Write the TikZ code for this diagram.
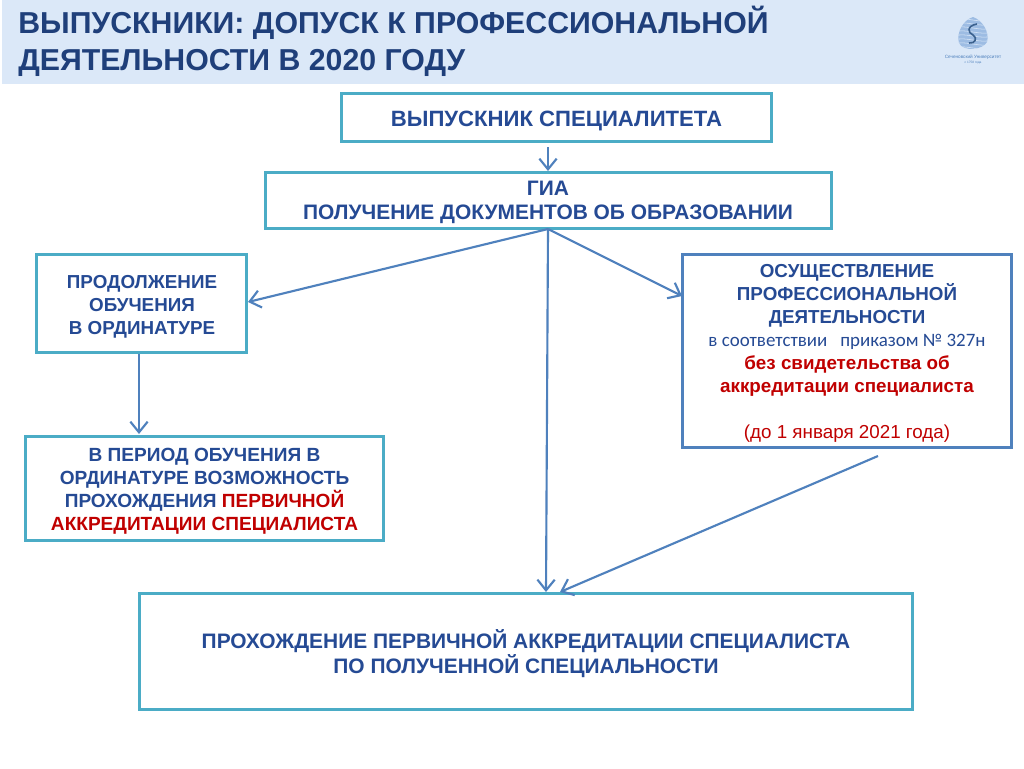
\documentclass[tikz,border=0pt]{standalone}
\usepackage{fontspec}
\setmainfont{Liberation Sans}
\newfontfamily\calib{Carlito}
\usetikzlibrary{arrows.meta}
\definecolor{hdr}{HTML}{DBE8F8}
\definecolor{teal}{HTML}{4BACC6}
\definecolor{frameblue}{HTML}{4F81BD}
\definecolor{txtblue}{HTML}{254A94}
\definecolor{titleblue}{HTML}{1F3F7A}
\definecolor{redt}{HTML}{C00000}
\definecolor{logob}{HTML}{9DBCE3}
\tikzset{
  tbox/.style={draw=teal,line width=2.25pt,fill=white,inner sep=0pt,outer sep=0pt},
  bbox/.style={tbox,draw=frameblue},
  txt/.style={inner sep=0pt,align=center,text=txtblue,font=\bfseries\fontsize{14.1}{17.25}\selectfont},
  conn/.style={draw=frameblue,line width=1.6pt,-{Straight Barb[length=8pt,width=13pt,line width=1.6pt]}},
  head/.style={anchor=base west,text=titleblue,font=\bfseries\fontsize{22.7}{28}\selectfont,inner sep=0pt}
}
\newcommand{\rt}[1]{\textcolor{redt}{#1}}
\begin{document}
\begin{tikzpicture}[x=0.75pt,y=-0.75pt]
\useasboundingbox (0,0) rectangle (1024,768);
\fill[white] (0,0) rectangle (1024,768);
\fill[hdr] (2,0) rectangle (1024,84);
\node[head] (t1) at (18,33) {ВЫПУСКНИКИ: ДОПУСК К ПРОФЕССИОНАЛЬНОЙ};
\node[head] (t2) at (18,70) {ДЕЯТЕЛЬНОСТИ В 2020 ГОДУ};
% logo
\begin{scope}
\clip (973,17) .. controls (982,20) and (990,32) .. (987,42) .. controls (983,50) and (963,52) .. (959,43) .. controls (956,33) and (963,20) .. (973,17) -- cycle;
\fill[logob] (950,10) rectangle (995,55);
\foreach \q in {16,20,...,56}{
  \draw[hdr,line width=0.4pt] (955,\q) .. controls (965,\q-4) and (980,\q+4) .. (992,\q);
}
\end{scope}
\draw[frameblue!75!black,line width=1.2pt] (977,24) .. controls (966,26) and (968,33) .. (973,35) .. controls (978,38) and (975,44) .. (969,43);
\node[inner sep=0pt,text=frameblue,font=\fontsize{3.5}{4}\selectfont] (lg1) at (973,57) {Сеченовский Университет};
\node[inner sep=0pt,text=frameblue,font=\fontsize{2.4}{3}\selectfont] (lg2) at (973,63) {с 1758 года};
% boxes
\node[tbox,minimum width=323pt,minimum height=36pt] (b1) at (556.5,117) {};
\node[tbox,minimum width=425pt,minimum height=42pt] (b2) at (548.5,200) {};
\node[tbox,minimum width=157pt,minimum height=74pt] (l1) at (141.5,303.5) {};
\node[tbox,minimum width=269pt,minimum height=78pt] (l2) at (204.5,488) {};
\node[bbox,minimum width=247pt,minimum height=145pt] (r1) at (847,351) {};
\node[tbox,minimum width=580pt,minimum height=87pt] (bt) at (526,651) {};
% texts
\node[txt,font=\bfseries\fontsize{16.6}{19}\selectfont] (b1t) at (556.5,120.5) {ВЫПУСКНИК СПЕЦИАЛИТЕТА};
\node[txt,font=\bfseries\fontsize{15.7}{18}\selectfont] (b2t) at (548,202.5) {ГИА\\ПОЛУЧЕНИЕ ДОКУМЕНТОВ ОБ ОБРАЗОВАНИИ};
\node[txt] (l1t) at (142,307) {ПРОДОЛЖЕНИЕ\\ОБУЧЕНИЯ\\В ОРДИНАТУРЕ};
\node[txt,font=\bfseries\fontsize{14.3}{17.25}\selectfont] (l2t) at (204.5,491) {В ПЕРИОД ОБУЧЕНИЯ В\\ОРДИНАТУРЕ ВОЗМОЖНОСТЬ\\ПРОХОЖДЕНИЯ \rt{ПЕРВИЧНОЙ}\\\rt{АККРЕДИТАЦИИ СПЕЦИАЛИСТА}};
\node[txt] (r1t) at (847,353.5) {ОСУЩЕСТВЛЕНИЕ\\ПРОФЕССИОНАЛЬНОЙ\\ДЕЯТЕЛЬНОСТИ\\{\calib\mdseries\fontsize{14.2}{17.25}\selectfont в соответствии\ \ \ приказом № 327н}\\\rt{без свидетельства об}\\\rt{аккредитации специалиста}\\[17.25pt]{\mdseries\rt{(до 1 января 2021 года)}}};
\node[txt,font=\bfseries\fontsize{15.7}{18.75}\selectfont] (btt) at (526,654) {ПРОХОЖДЕНИЕ ПЕРВИЧНОЙ АККРЕДИТАЦИИ СПЕЦИАЛИСТА\\ПО ПОЛУЧЕННОЙ СПЕЦИАЛЬНОСТИ};
% connector anchors
\coordinate (s1) at (548,147);
\coordinate (e1) at (548,171);
\coordinate (s2) at (548,229);
\coordinate (eL) at (248,302);
\coordinate (eR) at (682,296);
\coordinate (eM) at (546,592);
\coordinate (sR) at (878,456);
\coordinate (eB) at (560,592);
\coordinate (sL) at (139,354);
\coordinate (eLL) at (139,434);
\draw[conn] (s1) -- (e1);
\draw[conn] (s2) -- (eL);
\draw[conn] (s2) -- (eR);
\draw[conn] (s2) -- (eM);
\draw[conn] (sR) -- (eB);
\draw[conn] (sL) -- (eLL);
\end{tikzpicture}
\end{document}
